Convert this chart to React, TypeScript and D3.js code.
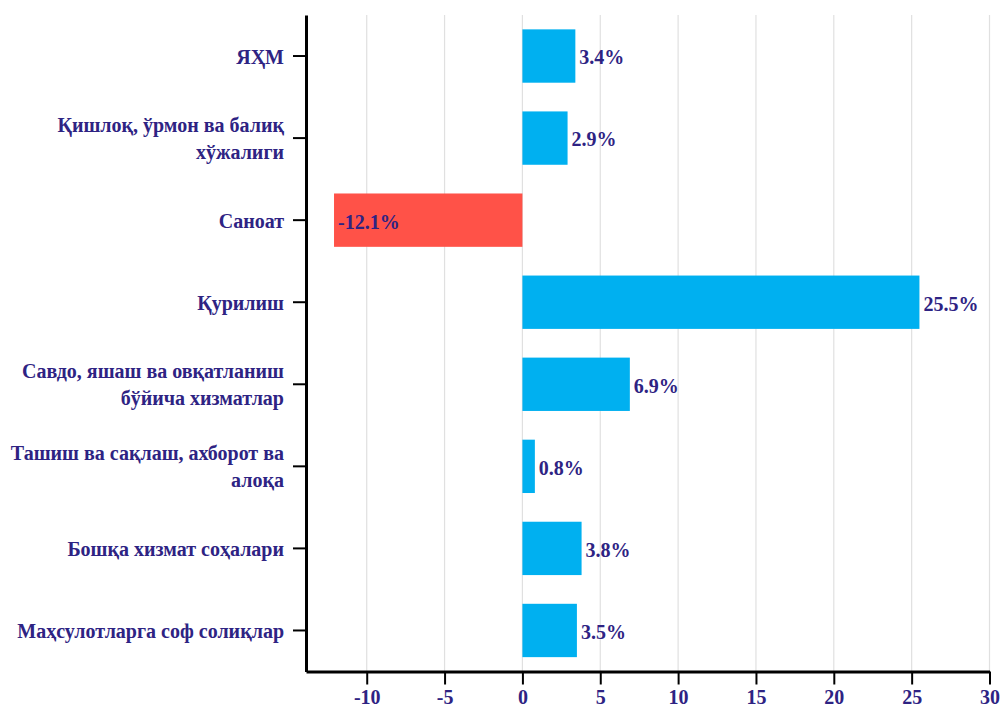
import React, { useEffect, useRef } from "react";
import * as d3 from "d3";

const categories: string[][] = [
  ["ЯҲМ"],
  ["Қишлоқ, ўрмон ва балиқ", "хўжалиги"],
  ["Саноат"],
  ["Қурилиш"],
  ["Савдо, яшаш ва овқатланиш", "бўйича хизматлар"],
  ["Ташиш ва сақлаш, ахборот ва", "алоқа"],
  ["Бошқа хизмат соҳалари"],
  ["Маҳсулотларга соф солиқлар"],
];
const values: number[] = [3.4, 2.9, -12.1, 25.5, 6.9, 0.8, 3.8, 3.5];
const xTicks: number[] = [-10, -5, 0, 5, 10, 15, 20, 25, 30];

const TEXT = "#2e2383";
const FONT = "'Times New Roman', 'Liberation Serif', 'DejaVu Serif', serif";

export default function App() {
  const svgRef = useRef<SVGSVGElement>(null);

  useEffect(() => {
    const width = 1000;
    const height = 704;
    const left = 306;
    const right = 989.5;
    const top = 15;
    const bottom = 671.5;

    const svg = d3
      .select(svgRef.current)
      .attr("width", width)
      .attr("height", height)
      .style("font-family", FONT);
    svg.selectAll("*").remove();

    const x = d3.scaleLinear().domain([-13.9, 30]).range([left, right]);
    const y = d3
      .scaleBand<number>()
      .domain(values.map((d, i) => i))
      .range([top, bottom])
      .paddingInner(0.35)
      .paddingOuter(0.175);

    // grid
    svg
      .append("g")
      .selectAll("line")
      .data(xTicks)
      .join("line")
      .attr("x1", (d) => x(d))
      .attr("x2", (d) => x(d))
      .attr("y1", top)
      .attr("y2", bottom)
      .attr("stroke", "#e0e0e0")
      .attr("stroke-width", 1.2);

    // bars
    svg
      .append("g")
      .selectAll("rect")
      .data(values)
      .join("rect")
      .attr("x", (d) => x(Math.min(0, d)))
      .attr("width", (d) => Math.abs(x(d) - x(0)))
      .attr("y", (d, i) => y(i)!)
      .attr("height", y.bandwidth())
      .attr("fill", (d) => (d < 0 ? "#ff5248" : "#00b0f0"));

    // value labels
    svg
      .append("g")
      .selectAll("text")
      .data(values)
      .join("text")
      .attr("x", (d) => x(d) + 4)
      .attr("y", (d, i) => y(i)! + y.bandwidth() / 2)
      .attr("dy", "0.42em")
      .attr("fill", TEXT)
      .style("font-family", FONT)
      .attr("font-weight", "bold")
      .attr("font-size", 20)
      .text((d) => `${d}%`);

    // x axis
    const xAxis = svg
      .append("g")
      .attr("transform", `translate(0,${bottom})`)
      .call(
        d3
          .axisBottom(x)
          .tickValues(xTicks)
          .tickSize(13)
          .tickSizeOuter(0)
          .tickPadding(5)
          .tickFormat((d) => String(d))
      );
    xAxis.attr("font-family", null);
    xAxis.select(".domain").attr("stroke", "#000").attr("stroke-width", 3);
    xAxis.selectAll(".tick line").attr("stroke", "#000").attr("stroke-width", 2);
    xAxis
      .selectAll(".tick text")
      .attr("fill", TEXT)
      .style("font-family", FONT)
      .attr("font-weight", "bold")
      .attr("font-size", 20);

    // y axis
    const yAxis = svg
      .append("g")
      .attr("transform", `translate(${left},0)`)
      .call(d3.axisLeft(y).tickSize(13).tickSizeOuter(0).tickFormat(() => ""));
    yAxis.select(".domain").attr("stroke", "#000").attr("stroke-width", 3);
    yAxis.selectAll(".tick line").attr("stroke", "#000").attr("stroke-width", 2);

    const lineH = 27;
    svg
      .append("g")
      .selectAll("text")
      .data(categories)
      .join("text")
      .attr("x", left - 22)
      .attr("y", (d, i) => y(i)! + y.bandwidth() / 2 - ((d.length - 1) * lineH) / 2)
      .attr("text-anchor", "end")
      .attr("fill", TEXT)
      .style("font-family", FONT)
      .attr("font-weight", "bold")
      .attr("font-size", 20)
      .each(function (d) {
        const t = d3.select(this);
        d.forEach((line, j) => {
          t.append("tspan")
            .attr("x", left - 22)
            .attr("dy", j === 0 ? "0.38em" : lineH)
            .text(line);
        });
      });
  }, []);

  return (
    <div style={{ position: "absolute", left: 0, top: 0 }}>
      <svg ref={svgRef} style={{ display: "block" }}></svg>
    </div>
  );
}
